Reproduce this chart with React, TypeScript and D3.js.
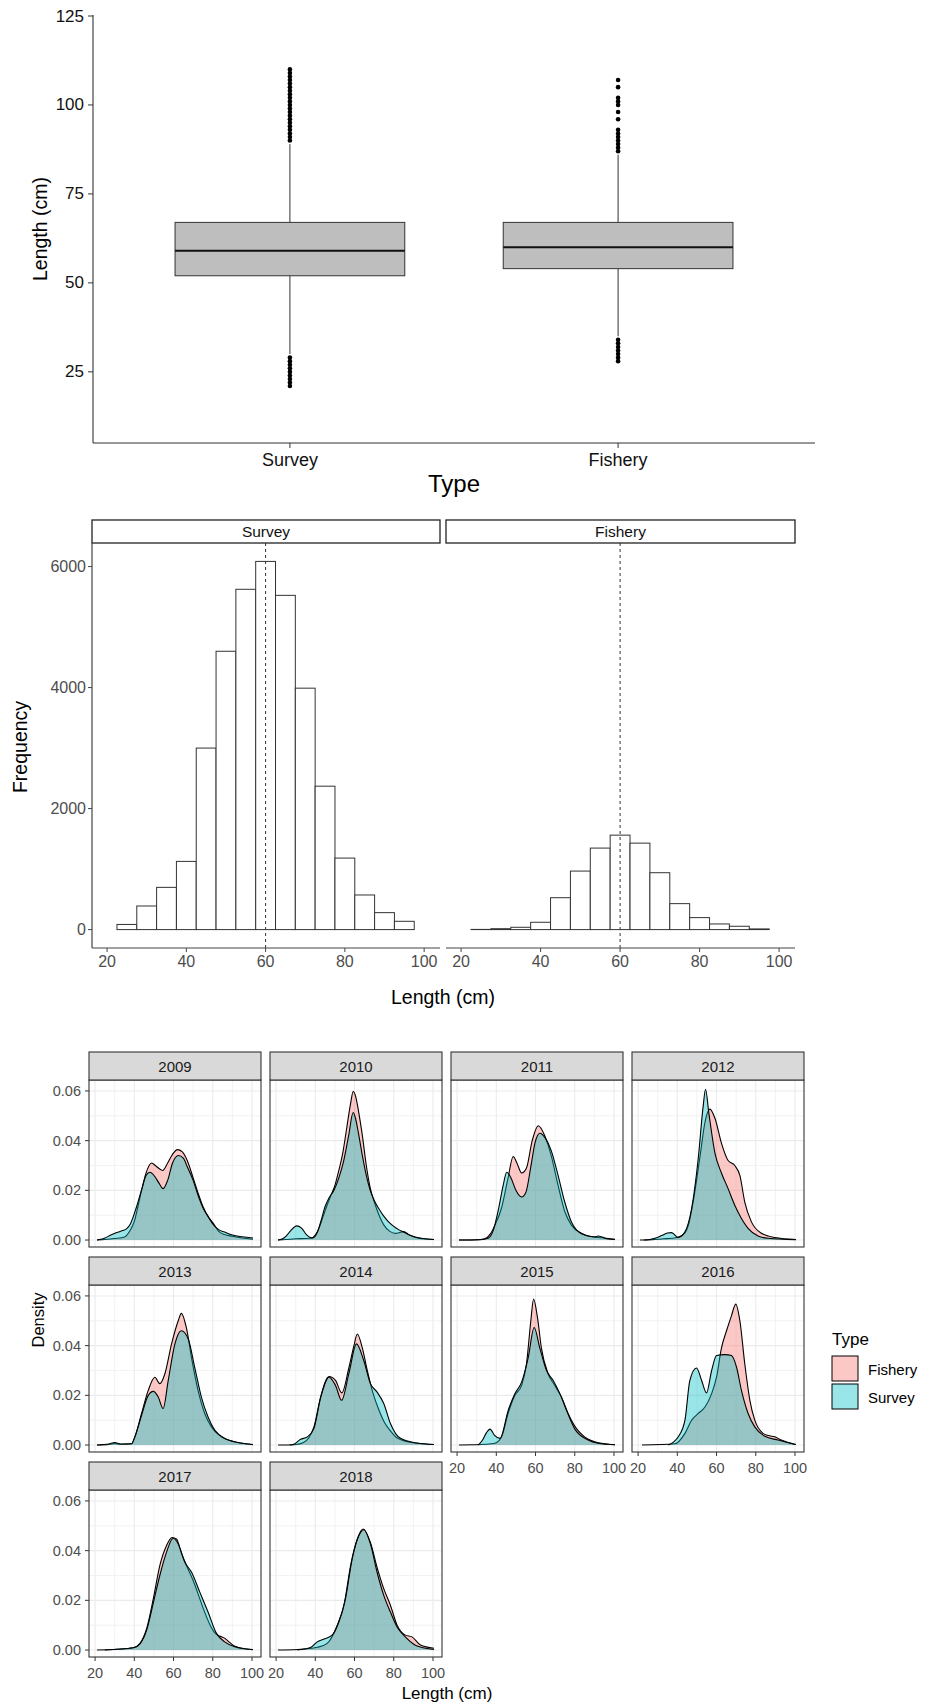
import React from "react";
import * as d3 from "d3";

const FONT = "'Liberation Sans', Arial, Helvetica, sans-serif";

// ---- boxplot data ----
const boxTypes = ["Survey", "Fishery"];
const whiskerLow = [30, 35];
const q1 = [52, 54];
const medians = [59, 60];
const q3 = [67, 67];
const whiskerHigh = [89, 86];
const surveyOutliers = [21, 22, 23, 24, 25, 26, 27, 28, 29, 90, 91, 92, 93, 94, 95, 96, 97, 98, 99, 100, 101, 102, 103, 104, 105, 106, 107, 108, 109, 110];
const fisheryOutliers = [28, 29, 30, 31, 32, 33, 34, 87, 88, 89, 90, 91, 92, 93, 96, 98, 100, 101, 102, 105, 107];
const boxTicks = [25, 50, 75, 100, 125];

// ---- histogram data ----
const binCenters = [25, 30, 35, 40, 45, 50, 55, 60, 65, 70, 75, 80, 85, 90, 95];
const binWidth = 5;
const surveyCounts = [85, 390, 698, 1127, 3000, 4600, 5624, 6085, 5524, 3990, 2370, 1182, 572, 280, 137];
const fisheryCounts = [3, 15, 38, 121, 527, 967, 1347, 1561, 1429, 940, 429, 198, 93, 55, 11];
const meanLengths = [60, 60];
const histYTicks = [0, 2000, 4000, 6000];
const lengthTicks = [20, 40, 60, 80, 100];

// ---- density data: [length, density] ----
const years = [2009, 2010, 2011, 2012, 2013, 2014, 2015, 2016, 2017, 2018];
const fishery2009 = [[21,0],[25,0.0002],[30,0.0006],[35,0.0012],[38,0.004],[40,0.0075],[42,0.014],[44,0.021],[46,0.027],[48.8,0.031],[51,0.0298],[54.5,0.028],[57,0.031],[59.5,0.0345],[62,0.0364],[64.5,0.0355],[67,0.032],[70,0.025],[72.5,0.019],[75,0.0135],[78,0.009],[80,0.007],[83,0.0035],[86,0.0022],[90,0.0015],[95,0.0008],[100.5,0.0003]];
const survey2009 = [[21,0],[23,0.0003],[25,0.0008],[28,0.002],[31,0.003],[34,0.0038],[36,0.0045],[38,0.0065],[41,0.013],[44,0.021],[46,0.026],[48,0.0273],[50.5,0.0255],[52.5,0.023],[54.7,0.0207],[57,0.024],[59.5,0.031],[62.5,0.034],[65,0.033],[67,0.0295],[70,0.024],[72.5,0.018],[75,0.013],[78,0.009],[80,0.0065],[83,0.0042],[86,0.0032],[90,0.002],[95,0.0013],[100.5,0.0008]];
const fishery2010 = [[21,0],[25,0.0002],[30,0.0005],[35,0.0006],[38,0.0008],[40,0.002],[42,0.005],[44,0.0095],[46,0.014],[48,0.018],[50,0.022],[52,0.028],[54,0.035],[56,0.045],[58,0.055],[59.3,0.0598],[60.5,0.058],[62,0.052],[64,0.042],[66,0.03],[68,0.021],[70,0.0155],[72.5,0.01],[75,0.006],[78,0.0035],[81,0.0027],[85,0.0034],[88,0.002],[91,0.001],[95,0.0005],[100.5,0.0002]];
const survey2010 = [[21,0],[23,0.0004],[25,0.0015],[27.5,0.0038],[30.5,0.0057],[33,0.0048],[35.5,0.0022],[38.5,0.0008],[41,0.003],[43,0.008],[45,0.0135],[47,0.017],[49.5,0.02],[52,0.025],[54.5,0.032],[57,0.042],[59.3,0.0513],[60.5,0.049],[62,0.043],[64,0.034],[66,0.026],[68,0.02],[70,0.016],[72.5,0.0125],[75,0.0095],[77.5,0.0072],[80,0.0055],[82.5,0.0042],[85,0.0032],[88,0.002],[91,0.0012],[95,0.0006],[100.5,0.0002]];
const fishery2011 = [[21,0],[30,0.0001],[34,0.0005],[37,0.0025],[39.3,0.006],[42.7,0.013],[46,0.025],[48.6,0.0336],[50.5,0.031],[52.9,0.027],[55.4,0.029],[58.3,0.04],[61.4,0.046],[64.7,0.042],[68,0.034],[71.5,0.022],[75,0.0113],[78.3,0.006],[83.4,0.0027],[88.5,0.0013],[93.6,0.0009],[100.5,0.0003]];
const survey2011 = [[21,0],[32,0.0001],[36,0.0008],[38.5,0.004],[41,0.012],[43.5,0.022],[45.3,0.0273],[47.5,0.025],[50,0.02],[52.9,0.0173],[55,0.019],[57.5,0.029],[59.7,0.039],[62.2,0.043],[65,0.041],[68,0.036],[71.5,0.026],[74.9,0.0153],[78.3,0.0073],[81,0.004],[86.8,0.0016],[90,0.0013],[92,0.0016],[94,0.0012],[97,0.0004],[100.5,0.0002]];
const fishery2012 = [[21,0],[27,0.0001],[33,0.0005],[37,0.0007],[40,0.001],[44,0.003],[46,0.007],[48,0.015],[50,0.025],[52,0.036],[54,0.047],[56.6,0.0527],[59.2,0.049],[62.5,0.039],[65.9,0.032],[69.3,0.03],[71.9,0.026],[74.4,0.0153],[77.8,0.0073],[82.9,0.0027],[89.7,0.001],[100.5,0.0002]];
const survey2012 = [[23,0],[26,0.0002],[29,0.0008],[32,0.0018],[35,0.0028],[37.1,0.003],[40.5,0.001],[43.9,0.0033],[47.3,0.0127],[50.7,0.033],[53.2,0.054],[54.4,0.0607],[56.1,0.051],[59.2,0.035],[62.5,0.027],[65.9,0.0207],[69.3,0.014],[72.7,0.0087],[76.1,0.0047],[81.2,0.0016],[86.3,0.0007],[100.5,0.0001]];
const fishery2013 = [[21,0],[27,0.0002],[30,0.0006],[33,0.0003],[38.6,0.0005],[40.3,0.0033],[43.7,0.0127],[47.1,0.022],[50.5,0.0273],[53,0.0247],[55.6,0.0287],[59,0.0407],[62.4,0.05],[64,0.053],[66.6,0.047],[69.2,0.035],[72.5,0.022],[75.9,0.0127],[79.3,0.0073],[84.4,0.0033],[89.5,0.0016],[94.6,0.0007],[100.5,0.0001]];
const survey2013 = [[21,0],[27,0.0004],[30,0.001],[33,0.0004],[38.6,0.0005],[40.3,0.0033],[43.7,0.012],[47.1,0.02],[49.7,0.0216],[52.2,0.0193],[54.7,0.0147],[57.3,0.026],[60.7,0.0407],[64,0.046],[67.5,0.0427],[70.8,0.0313],[74.2,0.0193],[77.6,0.0113],[81,0.006],[86,0.0027],[93,0.001],[100.5,0.0002]];
const fishery2014 = [[21,0],[29,0.0001],[34,0.001],[39.3,0.0073],[42.7,0.0193],[47,0.0276],[50.3,0.026],[53.5,0.021],[57.1,0.031],[59.7,0.04],[61.4,0.0447],[64,0.039],[66.5,0.03],[69,0.022],[72,0.015],[75,0.0095],[78,0.006],[82,0.0027],[90,0.0009],[100.5,0.0002]];
const survey2014 = [[27,0],[29,0.0003],[32.5,0.0023],[35.9,0.0033],[39.3,0.0067],[42.7,0.019],[47,0.0273],[50.3,0.024],[53.4,0.018],[57.1,0.0287],[61,0.0407],[64.7,0.034],[68.1,0.0247],[71.5,0.0213],[74.9,0.0167],[78.3,0.0087],[83.4,0.0027],[91.9,0.0008],[100.5,0.0002]];
const fishery2015 = [[21,0],[35,0.0003],[39.3,0.0007],[42.7,0.0033],[46,0.0127],[49.5,0.02],[52.9,0.024],[55.4,0.0327],[57.6,0.05],[59,0.0587],[61,0.0513],[63,0.039],[66.4,0.0287],[69.8,0.024],[73.2,0.0193],[76.6,0.0127],[80.8,0.0067],[85,0.0033],[90.2,0.0013],[95.3,0.0005],[100.5,0.0001]];
const survey2015 = [[30.8,0],[33,0.002],[35,0.005],[36.8,0.0064],[39,0.004],[41.9,0.0027],[46.1,0.014],[49.5,0.0207],[52.9,0.0253],[56.3,0.0353],[59.3,0.0473],[62.2,0.039],[65.6,0.03],[69,0.026],[72.4,0.0207],[75.8,0.014],[80,0.0065],[86.8,0.002],[91.9,0.0007],[100.5,0.0001]];
const fishery2016 = [[22,0],[38.8,0.0005],[43.9,0.0047],[47.3,0.01],[50.7,0.0127],[54.1,0.0153],[57.5,0.0207],[60,0.0273],[62.5,0.039],[65.1,0.046],[67.6,0.052],[69.8,0.0567],[71.9,0.05],[74.4,0.0327],[77,0.018],[79.5,0.01],[83.7,0.0047],[86.5,0.0038],[89.7,0.0033],[93,0.002],[100.5,0.0002]];
const survey2016 = [[35.4,0],[38,0.0012],[40.5,0.0033],[43.9,0.01],[46.4,0.026],[49.8,0.031],[52.4,0.026],[54.9,0.021],[57.5,0.03],[60,0.036],[64.2,0.0364],[67.6,0.036],[70.2,0.0313],[72.7,0.022],[76.1,0.0127],[79.5,0.0073],[84.6,0.0035],[91.4,0.002],[100,0.0002]];
const fishery2017 = [[21,0],[31,0.0003],[39.5,0.0009],[42.9,0.0027],[46.3,0.0087],[49.7,0.0207],[53,0.034],[56.4,0.042],[59.3,0.0453],[61.5,0.0447],[64,0.039],[66.6,0.034],[70,0.028],[73,0.0215],[76,0.015],[79,0.0095],[82,0.0062],[84,0.0055],[86,0.0048],[88,0.0035],[91,0.0016],[95,0.0007],[100.5,0.0002]];
const survey2017 = [[25,0],[31,0.0003],[39.5,0.0009],[42.9,0.0025],[46.3,0.008],[49.7,0.019],[53,0.03],[56.4,0.0393],[59.8,0.045],[62.4,0.0427],[65.8,0.0353],[69.2,0.0313],[73.4,0.0233],[77.6,0.0153],[81.9,0.0067],[86.1,0.0033],[91.2,0.0013],[96.3,0.0005],[100.5,0.0001]];
const fishery2018 = [[21,0],[31,0.0002],[41,0.0011],[46.1,0.0027],[51.2,0.01],[54.6,0.018],[58,0.034],[61.4,0.0447],[64.4,0.0487],[68.1,0.0433],[71.5,0.0333],[74.9,0.0247],[78.3,0.018],[81.7,0.01],[85.9,0.006],[89.3,0.0053],[93.6,0.002],[100.5,0.0007]];
const survey2018 = [[30.8,0],[37.6,0.001],[41,0.0033],[44.4,0.0044],[48.6,0.006],[52,0.0113],[55.4,0.0207],[58.8,0.0367],[62.2,0.046],[64.7,0.0484],[68.1,0.0427],[71.5,0.0313],[74.9,0.022],[78.3,0.0153],[81.7,0.0093],[85.9,0.0053],[91.9,0.0016],[100.5,0.0002]];
const densityTypes = ["Fishery", "Survey"];
const densityColors = ["#F8766D", "#00BFC4"];
const densityYTicks = [0, 0.02, 0.04, 0.06];

const fisheryByYear = [fishery2009, fishery2010, fishery2011, fishery2012, fishery2013, fishery2014, fishery2015, fishery2016, fishery2017, fishery2018];
const surveyByYear = [survey2009, survey2010, survey2011, survey2012, survey2013, survey2014, survey2015, survey2016, survey2017, survey2018];

const BoxPanel = () => {
  const y = d3.scaleLinear().domain([5, 125]).range([443, 16]);
  const x = d3.scalePoint().domain(boxTypes).range([93, 815]).padding(0.6);
  const bw = x.step() * 0.7;
  const outliers = [surveyOutliers, fisheryOutliers];
  return (
    <g>
      <line x1={93} x2={93} y1={15} y2={443} stroke="#333" strokeWidth={1.1} />
      <line x1={93} x2={815} y1={443} y2={443} stroke="#333" strokeWidth={1.1} />
      {boxTicks.map((t) => (
        <g key={t}>
          <line x1={88} x2={93} y1={y(t)} y2={y(t)} stroke="#333" />
          <text x={84} y={y(t)} textAnchor="end" dominantBaseline="central" fontSize={17} fill="#111">{t}</text>
        </g>
      ))}
      {boxTypes.map((t, i) => {
        const cx = x(t) as number;
        return (
          <g key={t}>
            <line x1={cx} x2={cx} y1={443} y2={448} stroke="#333" />
            <text x={cx} y={460} textAnchor="middle" dominantBaseline="central" fontSize={18} fill="#111">{t}</text>
            <line x1={cx} x2={cx} y1={y(whiskerHigh[i])} y2={y(q3[i])} stroke="#333" strokeWidth={1} />
            <line x1={cx} x2={cx} y1={y(q1[i])} y2={y(whiskerLow[i])} stroke="#333" strokeWidth={1} />
            <rect x={cx - bw / 2} y={y(q3[i])} width={bw} height={y(q1[i]) - y(q3[i])} fill="#BEBEBE" stroke="#333" strokeWidth={1} />
            <line x1={cx - bw / 2} x2={cx + bw / 2} y1={y(medians[i])} y2={y(medians[i])} stroke="#111" strokeWidth={2} />
            {outliers[i].map((v, j) => (
              <circle key={j} cx={cx} cy={y(v)} r={2.3} fill="#000" />
            ))}
          </g>
        );
      })}
      <text x={454} y={492} textAnchor="middle" fontSize={24} fill="#000">Type</text>
      <text transform="translate(40,229) rotate(-90)" textAnchor="middle" dominantBaseline="central" fontSize={19.5} fill="#000">Length (cm)</text>
    </g>
  );
};

const HistPanel = () => {
  const maxCount = d3.max([...surveyCounts, ...fisheryCounts]) as number;
  const y = d3.scaleLinear().domain([-0.05 * maxCount, 1.05 * maxCount]).range([948, 543]);
  const panels = [
    { name: "Survey", x0: 92, x1: 440, counts: surveyCounts, mean: meanLengths[0] },
    { name: "Fishery", x0: 446, x1: 795, counts: fisheryCounts, mean: meanLengths[1] },
  ];
  return (
    <g>
      {panels.map((p, pi) => {
        const x = d3.scaleLinear().domain([16.2, 104]).range([p.x0, p.x1]);
        return (
          <g key={p.name}>
            <rect x={p.x0} y={520} width={p.x1 - p.x0} height={23} fill="#fff" stroke="#222" strokeWidth={1.3} />
            <text x={(p.x0 + p.x1) / 2} y={531.5} textAnchor="middle" dominantBaseline="central" fontSize={15.5} fill="#111">{p.name}</text>
            {binCenters.map((c, i) => (
              <rect key={c} x={x(c - binWidth / 2)} y={y(p.counts[i])} width={x(c + binWidth / 2) - x(c - binWidth / 2)} height={y(0) - y(p.counts[i])} fill="#fff" stroke="#333" strokeWidth={1} />
            ))}
            <line x1={x(p.mean)} x2={x(p.mean)} y1={543} y2={948} stroke="#333" strokeWidth={1} strokeDasharray="3,3" />
            <line x1={p.x0} x2={p.x1} y1={948} y2={948} stroke="#444" strokeWidth={1.2} />
            {lengthTicks.map((t) => (
              <g key={t}>
                <line x1={x(t)} x2={x(t)} y1={948} y2={952} stroke="#444" />
                <text x={x(t)} y={961} textAnchor="middle" dominantBaseline="central" fontSize={16} fill="#4D4D4D">{t}</text>
              </g>
            ))}
            {pi === 0 && (
              <g>
                <line x1={p.x0} x2={p.x0} y1={543} y2={948} stroke="#444" strokeWidth={1.2} />
                {histYTicks.map((t) => (
                  <g key={t}>
                    <line x1={p.x0 - 4} x2={p.x0} y1={y(t)} y2={y(t)} stroke="#444" />
                    <text x={p.x0 - 6} y={y(t)} textAnchor="end" dominantBaseline="central" fontSize={16} fill="#4D4D4D">{t}</text>
                  </g>
                ))}
              </g>
            )}
          </g>
        );
      })}
      <text transform="translate(20,747) rotate(-90)" textAnchor="middle" dominantBaseline="central" fontSize={19.5} fill="#000">Frequency</text>
      <text x={443} y={997} textAnchor="middle" dominantBaseline="central" fontSize={19.5} fill="#000">Length (cm)</text>
    </g>
  );
};

const DensityPanel = () => {
  const pw = 172, ph = 167, sh = 28;
  const y0 = d3.scaleLinear().domain([-0.0028, 0.0644]).range([ph, 0]);
  const x0 = d3.scaleLinear().domain([16.9, 104.6]).range([0, pw]);
  const area = d3.area<number[]>().x((d) => x0(d[0])).y0(y0(0)).y1((d) => y0(d[1])).curve(d3.curveMonotoneX);
  const line = d3.line<number[]>().x((d) => x0(d[0])).y((d) => y0(d[1])).curve(d3.curveMonotoneX);
  const fmt = d3.format(".2f");
  const xMinor = [30, 50, 70, 90];
  const yMinor = [0.01, 0.03, 0.05];
  return (
    <g>
      {years.map((yr, i) => {
        const col = i % 4, row = Math.floor(i / 4);
        const left = 89 + col * 181;
        const stripTop = 1052 + row * 205;
        const top = stripTop + sh;
        const hasXAxis = i + 4 >= years.length;
        const series = [fisheryByYear[i], surveyByYear[i]];
        return (
          <g key={yr} transform={`translate(${left},${top})`}>
            <rect x={0} y={0} width={pw} height={ph} fill="#fff" />
            {xMinor.map((t) => <line key={"xm" + t} x1={x0(t)} x2={x0(t)} y1={0} y2={ph} stroke="#EBEBEB" strokeWidth={0.6} />)}
            {yMinor.map((t) => <line key={"ym" + t} x1={0} x2={pw} y1={y0(t)} y2={y0(t)} stroke="#EBEBEB" strokeWidth={0.6} />)}
            {lengthTicks.map((t) => <line key={"xM" + t} x1={x0(t)} x2={x0(t)} y1={0} y2={ph} stroke="#EBEBEB" strokeWidth={1.1} />)}
            {densityYTicks.map((t) => <line key={"yM" + t} x1={0} x2={pw} y1={y0(t)} y2={y0(t)} stroke="#EBEBEB" strokeWidth={1.1} />)}
            {series.map((s, k) => (
              <g key={densityTypes[k]}>
                <path d={area(s) as string} fill={densityColors[k]} fillOpacity={0.4} />
                <path d={line(s) as string} fill="none" stroke="#000" strokeWidth={1.1} />
              </g>
            ))}
            <rect x={0} y={0} width={pw} height={ph} fill="none" stroke="#333" strokeWidth={1.1} />
            <rect x={0} y={-sh} width={pw} height={sh} fill="#D9D9D9" stroke="#333" strokeWidth={1.1} />
            <text x={pw / 2} y={-sh / 2} textAnchor="middle" dominantBaseline="central" fontSize={15} fill="#1A1A1A">{yr}</text>
            {col === 0 && densityYTicks.map((t) => (
              <g key={"yt" + t}>
                <line x1={-4} x2={0} y1={y0(t)} y2={y0(t)} stroke="#333" />
                <text x={-8} y={y0(t)} textAnchor="end" dominantBaseline="central" fontSize={14.5} fill="#4D4D4D">{fmt(t)}</text>
              </g>
            ))}
            {hasXAxis && lengthTicks.map((t) => (
              <g key={"xt" + t}>
                <line x1={x0(t)} x2={x0(t)} y1={ph} y2={ph + 4} stroke="#333" />
                <text x={x0(t)} y={ph + 16} textAnchor="middle" dominantBaseline="central" fontSize={14.5} fill="#4D4D4D">{t}</text>
              </g>
            ))}
          </g>
        );
      })}
      <text transform="translate(38,1320) rotate(-90)" textAnchor="middle" dominantBaseline="central" fontSize={16.5} fill="#000">Density</text>
      <text x={447} y={1693} textAnchor="middle" dominantBaseline="central" fontSize={17} fill="#000">Length (cm)</text>
      <text x={832} y={1345} fontSize={17} fill="#000">Type</text>
      {densityTypes.map((t, k) => (
        <g key={t}>
          <rect x={832} y={1356 + k * 28} width={26} height={25} fill="#fff" />
          <rect x={832} y={1356 + k * 28} width={26} height={25} fill={densityColors[k]} fillOpacity={0.4} stroke="#000" strokeWidth={1} />
          <text x={868} y={1369 + k * 28} dominantBaseline="central" fontSize={15} fill="#000">{t}</text>
        </g>
      ))}
    </g>
  );
};

export default function App() {
  return (
    <svg width={931} height={1703} style={{ position: "absolute", left: 0, top: 0, display: "block", background: "#fff" }} fontFamily={FONT}>
      <rect width={931} height={1703} fill="#fff" />
      <BoxPanel />
      <HistPanel />
      <DensityPanel />
    </svg>
  );
}
